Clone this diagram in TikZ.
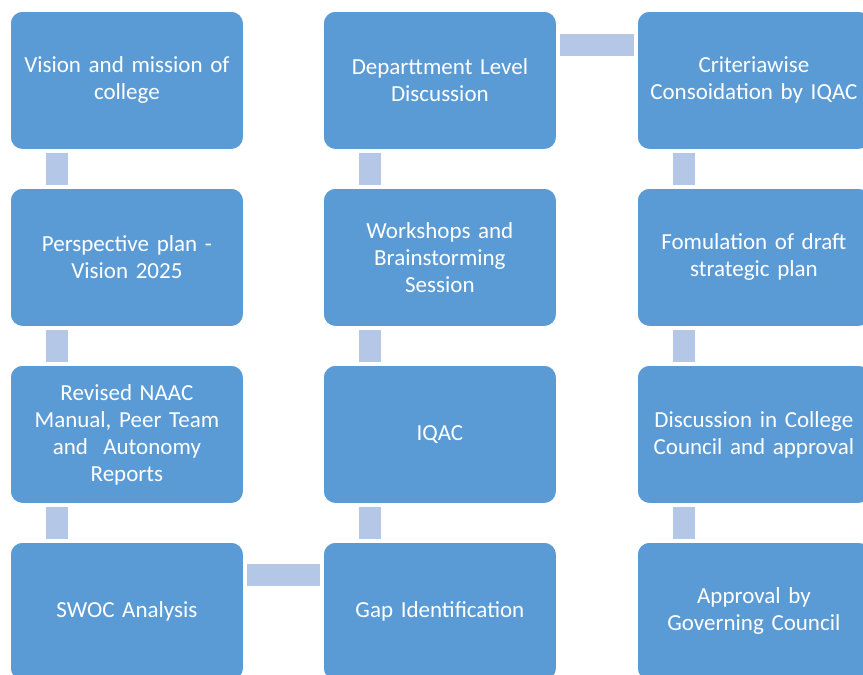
\documentclass[tikz,border=0pt]{standalone}
\usepackage{fontspec}
\setmainfont{Carlito}
\usetikzlibrary{calc}
\definecolor{boxblue}{HTML}{5B9BD5}
\definecolor{connblue}{HTML}{B4C7E7}
\tikzset{
  stepbox/.style={draw=white, line width=0.8pt, fill=boxblue, rounded corners=12pt,
    minimum width=233pt, minimum height=138pt, text width=231pt, align=center,
    text=white, font=\fontsize{23}{27}\selectfont, inner sep=0pt, anchor=north west},
  conn/.style={draw=connblue, line width=22pt, shorten >=3pt, shorten <=3pt}
}
\begin{document}
\begin{tikzpicture}[x=1pt,y=-1pt]
\useasboundingbox (0,0) rectangle (863,675);
\clip (0,0) rectangle (863,675);
% column 1
\node[stepbox] (a1) at (10,11) {Vision and mission of\\college};
\node[stepbox] (a2) at (10,188) {Perspective plan -\\Vision 2025};
\node[stepbox] (a3) at (10,365) {Revised NAAC\\Manual, Peer Team\\and\ \ Autonomy\\Reports};
\node[stepbox] (a4) at (10,542) {SWOC Analysis};
% column 2
\node[stepbox] (b1) at (323,11) {Departtment Level\\Discussion};
\node[stepbox] (b2) at (323,188) {Workshops and\\Brainstorming\\Session};
\node[stepbox] (b3) at (323,365) {IQAC};
\node[stepbox] (b4) at (323,542) {Gap Identification};
% column 3
\node[stepbox] (c1) at (637,11) {Criteriawise\\Consoidation by IQAC};
\node[stepbox] (c2) at (637,188) {Fomulation of draft\\strategic plan};
\node[stepbox] (c3) at (637,365) {Discussion in College\\Council and approval};
\node[stepbox] (c4) at (637,542) {Approval by\\Governing Council};
% vertical connectors
\foreach \u/\v in {a1/a2,a2/a3,a3/a4,b1/b2,b2/b3,b3/b4,c1/c2,c2/c3,c3/c4}{
  \draw[conn] ($(\u.south west)+(47,0)$) -- ($(\v.north west)+(47,0)$);
}
% horizontal connectors
\draw[conn] ($(b1.north east)+(0,34)$) -- ($(c1.north west)+(0,34)$);
\draw[conn] ($(a4.north east)+(0,33)$) -- ($(b4.north west)+(0,33)$);
\end{tikzpicture}
\end{document}
